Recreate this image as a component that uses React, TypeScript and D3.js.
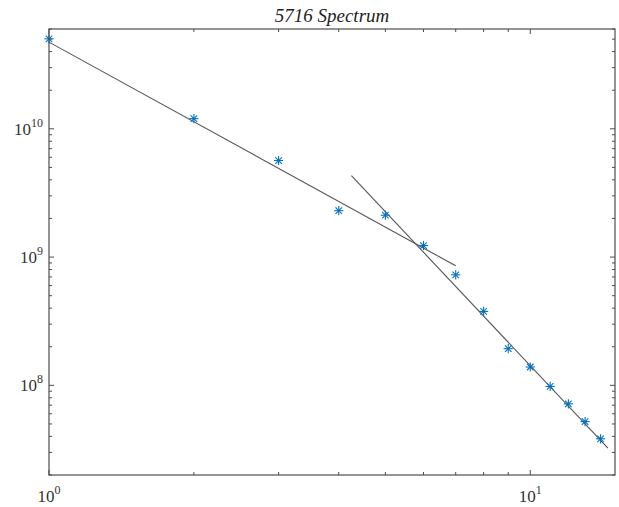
import React from "react";
import * as d3 from "d3";

// Data
const freqs = [1, 2, 3, 4, 5, 6, 7, 8, 9, 10, 11, 12, 13, 14];
const power = [5.03e10, 1.2e10, 5.66e9, 2.3e9, 2.12e9, 1.23e9, 7.27e8, 3.77e8, 1.93e8, 1.39e8, 9.8e7, 7.18e7, 5.22e7, 3.83e7];
const fit1X = [1, 7];
const fit1Y = [4.74e10, 8.55e8];
const fit2X = [4.25, 14.5];
const fit2Y = [4.31e9, 3.24e7];
const xMajor = [1, 10];
const xMajorExp = ["0", "1"];
const yMajor = [1e8, 1e9, 1e10];
const yMajorExp = ["8", "9", "10"];
const title = "5716 Spectrum";

const W = 619, H = 507;
const L = 49, R = 615, T = 29, B = 475;
const FONT = "'Liberation Serif', 'Times New Roman', serif";

export default function App() {
  const x = d3.scaleLog().domain([1, 15]).range([L, R]);
  const y = d3.scaleLog().domain([2e7, 6e10]).range([B, T]);

  const xMinor: number[] = [];
  for (let k = 2; k <= 9; k++) xMinor.push(k);
  const yMinor: number[] = [];
  [1e7, 1e8, 1e9, 1e10].forEach((d) => {
    for (let k = 2; k <= 9; k++) {
      const v = k * d;
      if (v >= 2e7 && v <= 6e10) yMinor.push(v);
    }
  });

  const line = d3.line<[number, number]>().x((d) => x(d[0])).y((d) => y(d[1]));
  const fit1 = fit1X.map((v, i) => [v, fit1Y[i]] as [number, number]);
  const fit2 = fit2X.map((v, i) => [v, fit2Y[i]] as [number, number]);

  const axisColor = "#4d4d4d";
  const r = 4.6;
  const d2 = r * 0.7071;

  return (
    <svg width={W} height={H} style={{ position: "absolute", left: 0, top: 0, background: "#fff" }} fontFamily={FONT}>
      <rect x={0} y={0} width={W} height={H} fill="#fff" />
      {/* ticks */}
      <g stroke={axisColor} strokeWidth={1}>
        {xMajor.map((v) => (
          <g key={"xm" + v}>
            <line x1={x(v)} x2={x(v)} y1={B} y2={B - 5} />
            <line x1={x(v)} x2={x(v)} y1={T} y2={T + 5} />
          </g>
        ))}
        {xMinor.map((v) => (
          <g key={"xn" + v}>
            <line x1={x(v)} x2={x(v)} y1={B} y2={B - 3} />
            <line x1={x(v)} x2={x(v)} y1={T} y2={T + 3} />
          </g>
        ))}
        {yMajor.map((v) => (
          <g key={"ym" + v}>
            <line x1={L} x2={L + 5} y1={y(v)} y2={y(v)} />
            <line x1={R} x2={R - 5} y1={y(v)} y2={y(v)} />
          </g>
        ))}
        {yMinor.map((v) => (
          <g key={"yn" + v}>
            <line x1={L} x2={L + 3} y1={y(v)} y2={y(v)} />
            <line x1={R} x2={R - 3} y1={y(v)} y2={y(v)} />
          </g>
        ))}
      </g>
      {/* fit lines */}
      <path d={line(fit1) || ""} fill="none" stroke="#555" strokeWidth={1.1} />
      <path d={line(fit2) || ""} fill="none" stroke="#555" strokeWidth={1.1} />
      {/* markers */}
      <g stroke="#0072BD" strokeWidth={1.1}>
        {freqs.map((f, i) => {
          const cx = x(f), cy = y(power[i]);
          return (
            <g key={"p" + i}>
              <line x1={cx - r} x2={cx + r} y1={cy} y2={cy} />
              <line x1={cx} x2={cx} y1={cy - r} y2={cy + r} />
              <line x1={cx - d2} x2={cx + d2} y1={cy - d2} y2={cy + d2} />
              <line x1={cx - d2} x2={cx + d2} y1={cy + d2} y2={cy - d2} />
            </g>
          );
        })}
      </g>
      {/* box */}
      <rect x={L} y={T} width={R - L} height={B - T} fill="none" stroke={axisColor} strokeWidth={1.2} />
      {/* y labels */}
      {yMajor.map((v, i) => (
        <text key={"yl" + v} x={L - 6} y={y(v) + 6} textAnchor="end" fill="#333" fontSize={17}>
          10<tspan dy={-8} fontSize={12}>{yMajorExp[i]}</tspan>
        </text>
      ))}
      {/* x labels */}
      {xMajor.map((v, i) => (
        <text key={"xl" + v} x={x(v)} y={B + 27} textAnchor="middle" fill="#333" fontSize={17}>
          10<tspan dy={-8} fontSize={12}>{xMajorExp[i]}</tspan>
        </text>
      ))}
      <text x={(L + R) / 2} y={22} textAnchor="middle" fontSize={19} fontStyle="italic" fill="#222">
        {title}
      </text>
    </svg>
  );
}
